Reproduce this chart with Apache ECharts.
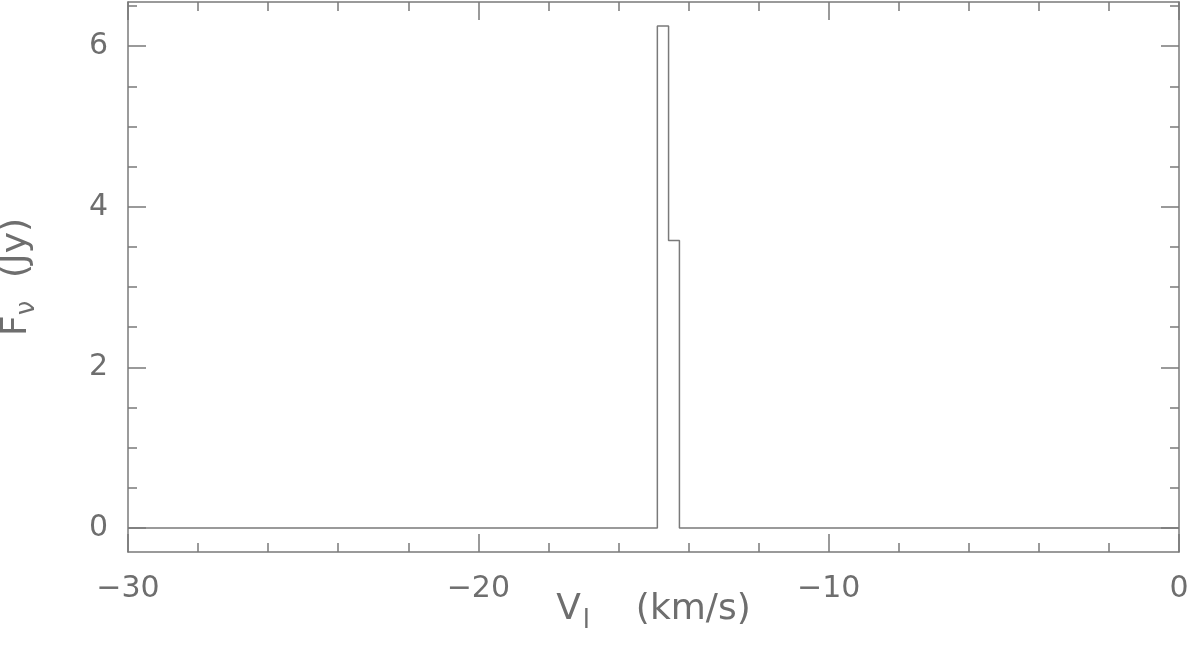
<!DOCTYPE html>
<html>
<head>
<meta charset="utf-8">
<script src="https://cdn.jsdelivr.net/npm/echarts@6/dist/echarts.min.js"></script>
<style>
  html, body { margin: 0; padding: 0; background: #fff; }
  #spectrum { width: 1200px; height: 645px; }
</style>
</head>
<body>
<div id="spectrum"></div>
<script>
var chart = echarts.init(document.getElementById('spectrum'));

// channel edges (km/s) and flux held from each edge to the next (Jy)
var velocity = [-30, -14.89, -14.57, -14.26, 0];
var flux = [0, 6.25, 3.58, 0, 0];

var yMajor = [0, 2, 4, 6];
var yMinor = [0, 0.5, 1, 1.5, 2, 2.5, 3, 3.5, 4, 4.5, 5, 5.5, 6, 6.5];

var ink = '#7a7a7a';
var txt = '#6e6e6e';
var font = 'DejaVu Sans';

var points = [];
for (var i = 0; i < velocity.length; i++) {
    points.push([velocity[i], flux[i]]);
}

function minus(v) {
    return String(v).replace('-', '\u2212');
}

function xAxisOf(pos, showLabel) {
    return {
        type: 'value',
        position: pos,
        min: -30,
        max: 0,
        interval: 10,
        axisLine: { show: true, onZero: false, lineStyle: { color: ink, width: 1.5 } },
        axisTick: { show: true, inside: true, length: 18, lineStyle: { color: ink, width: 1.5 } },
        minorTick: { show: true, splitNumber: 5, length: 9, lineStyle: { color: ink, width: 1.5 } },
        axisLabel: {
            show: showLabel, margin: 22, color: txt, fontSize: 30, fontFamily: font,
            formatter: minus
        },
        splitLine: { show: false },
        minorSplitLine: { show: false }
    };
}

function yAxisOf(pos, ticks, len, showLabel, line) {
    return {
        type: 'value',
        position: pos,
        min: -0.3,
        max: 6.55,
        axisLine: { show: line, onZero: false, lineStyle: { color: ink, width: 1.5 } },
        axisTick: { show: true, inside: true, length: len, customValues: ticks, lineStyle: { color: ink, width: 1.5 } },
        axisLabel: { show: showLabel, customValues: ticks, margin: 20, color: txt, fontSize: 30, fontFamily: font },
        splitLine: { show: false }
    };
}

var xBottom = xAxisOf('bottom', true);
xBottom.name = '{v|V}{sub|l}{s|    (km/s)}';
xBottom.nameLocation = 'middle';
xBottom.nameGap = 34;
xBottom.nameMoveOverlap = false;
xBottom.nameTextStyle = {
    color: txt, fontFamily: font,
    rich: {
        v: { fontSize: 36, color: txt, fontFamily: font },
        sub: { fontSize: 26, color: txt, fontFamily: font, padding: [22, 0, 0, 2] },
        s: { fontSize: 36, color: txt, fontFamily: font }
    }
};

var yLeft = yAxisOf('left', yMajor, 18, true, true);
yLeft.name = '{f|F}{nu|\u03bd}{s|  (Jy)}';
yLeft.nameLocation = 'middle';
yLeft.nameGap = 88;
yLeft.nameMoveOverlap = false;
yLeft.nameTextStyle = {
    color: txt, fontFamily: font,
    rich: {
        f: { fontSize: 36, color: txt, fontFamily: font },
        nu: { fontSize: 26, color: txt, fontFamily: font, padding: [20, 0, 0, 0] },
        s: { fontSize: 36, color: txt, fontFamily: font }
    }
};

var option = {
    animation: false,
    backgroundColor: '#fff',
    grid: { left: 128, right: 21, top: 2, bottom: 93, containLabel: false, outerBoundsMode: 'none' },
    xAxis: [xBottom, xAxisOf('top', false)],
    yAxis: [
        yLeft,
        yAxisOf('right', yMajor, 18, false, true),
        yAxisOf('left', yMinor, 9, false, false),
        yAxisOf('right', yMinor, 9, false, false)
    ],
    series: [
        {
            name: 'spectrum',
            type: 'line',
            step: 'end',
            xAxisIndex: 0,
            yAxisIndex: 0,
            data: points,
            symbol: 'none',
            lineStyle: { color: ink, width: 1.5 }
        }
    ]
};

chart.setOption(option);
</script>
</body>
</html>
